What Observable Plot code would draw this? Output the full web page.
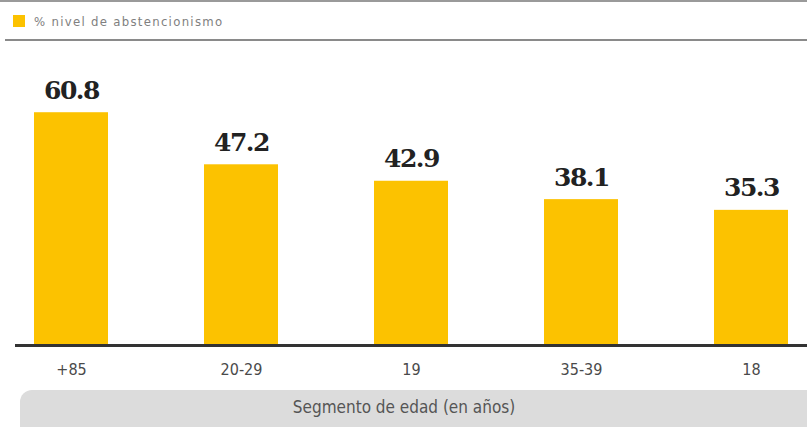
<!DOCTYPE html>
<html><head><meta charset="utf-8">
<script src="https://cdn.jsdelivr.net/npm/d3@7"></script>
<script src="https://cdn.jsdelivr.net/npm/@observablehq/plot@0.6"></script>
<style>
html,body{margin:0;padding:0;background:#fff;width:807px;height:427px;overflow:hidden;position:relative;font-family:"Open Sans",sans-serif;}
#top{position:absolute;left:0;top:0;width:807px;height:2px;background:#9a9a9a;}
#legend{position:absolute;left:13px;top:12px;height:18px;display:flex;align-items:center;font-family:"DejaVu Sans Condensed","DejaVu Sans",sans-serif;font-size:13px;letter-spacing:1.3px;color:#808080;}
#legend .sw{width:12px;height:12px;background:#fcc200;margin-right:9px;}
#sep{position:absolute;left:5px;top:39px;width:802px;height:2px;background:#8a8a8a;}
#chart{position:absolute;left:0;top:44px;}
#axisbox{position:absolute;left:20px;top:390px;width:810px;height:50px;background:#dcdcdc;border-radius:12px;}
#axisbox span{position:absolute;left:0;width:768px;top:7px;text-align:center;font-family:"DejaVu Sans Condensed","DejaVu Sans",sans-serif;font-weight:300;font-size:17px;color:#555;}
</style></head>
<body>
<div id="top"></div>
<div id="legend"><div class="sw"></div><span>% nivel de abstencionismo</span></div>
<div id="sep"></div>
<div id="chart"></div>
<div id="axisbox"><span>Segmento de edad (en años)</span></div>
<script>
const categories = ["+85", "20-29", "19", "35-39", "18"];
const values = [60.8, 47.2, 42.9, 38.1, 35.3];
const labels = ["60.8", "47.2", "42.9", "38.1", "35.3"];
const data = categories.map((c, i) => ({cat: c, val: values[i], label: labels[i]}));

const chart = Plot.plot({
  width: 807,
  height: 341,
  marginLeft: 15,
  marginRight: 0,
  marginTop: 33,
  marginBottom: 40,
  x: {domain: categories, paddingInner: 0.567, paddingOuter: 0.1, label: null, tickSize: 0, tickPadding: 18},
  y: {domain: [0, 70], axis: null},
  style: {fontFamily: "DejaVu Sans Condensed, DejaVu Sans, sans-serif", fontSize: "16px", color: "#4a4a4a", background: "#fff"},
  marks: [
    Plot.barY(data, {x: "cat", y: "val", fill: "#fcc200"}),
    Plot.ruleY([0], {stroke: "#333", strokeWidth: 3}),
    Plot.text(data, {x: "cat", y: "val", text: "label", lineAnchor: "bottom", dy: -14, fontFamily: "DejaVu Serif", fontWeight: "bold", fontSize: 25, fill: "#222"})
  ]
});
chart.querySelectorAll("g[aria-label='text'] text").forEach(t => { t.style.letterSpacing = "-1.5px"; });
document.getElementById("chart").appendChild(chart);
</script>
</body></html>
